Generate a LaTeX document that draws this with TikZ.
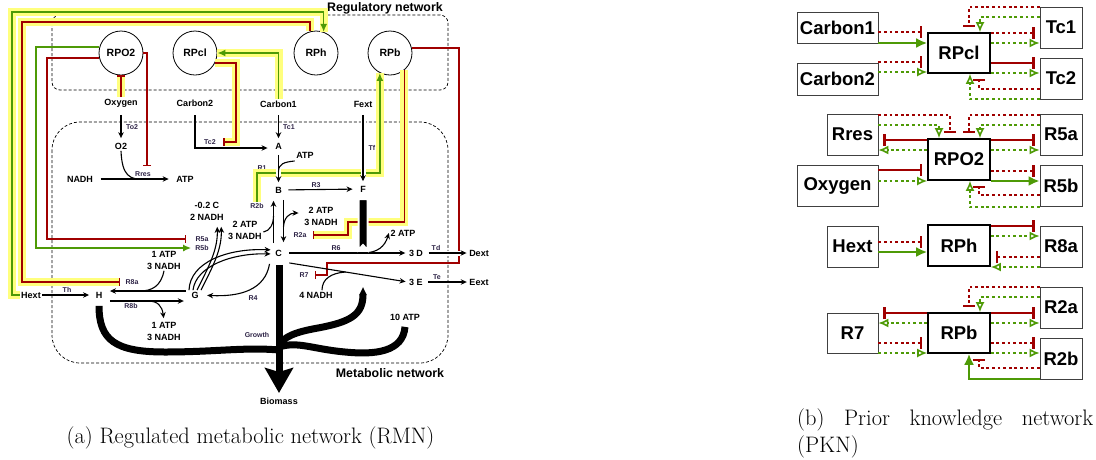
\documentclass[tikz,border=0pt]{standalone}
\usepackage{fontspec}
\newfontfamily\arial{Liberation Sans}
\usetikzlibrary{arrows.meta,calc}
\definecolor{actgreen}{RGB}{78,154,6}
\definecolor{inhred}{RGB}{160,0,0}
\definecolor{hlyellow}{RGB}{255,255,125}
\definecolor{labelink}{RGB}{45,35,70}
\begin{document}
\begin{tikzpicture}
[x=1pt,y=-1pt,
  regnode/.style={shape=circle,draw,line width=0.8pt,minimum size=44pt,inner sep=0pt,font=\arial\bfseries\fontsize{10.5}{12}\selectfont},%
  metnode/.style={inner sep=1.5pt,align=center,font=\arial\bfseries\fontsize{9}{12}\selectfont},%
  rlabel/.style={inner sep=1pt,text=labelink,font=\arial\bfseries\fontsize{7}{8}\selectfont},%
  netlabel/.style={inner sep=0pt,font=\arial\bfseries\fontsize{12.4}{14}\selectfont},%
  netbox/.style={draw,line width=0.7pt,dash pattern=on 3pt off 2pt},%
  flow/.style={draw,line width=1.1pt,-{Stealth[length=6pt,width=5.5pt]}},%
  side/.style={draw,line width=1.1pt},%
  crossgap/.style={preaction={draw=white,line width=5pt,-}},%
  thickflux/.style={draw,line width=7pt},%
  lact/.style={draw=actgreen,line width=1.6pt,-{Latex[length=8pt,width=7pt]}},%
  linh/.style={draw=inhred,line width=1.6pt,-{Bar[width=8pt]}},%
  hl/.style={preaction={draw=hlyellow,line width=8pt,-}},%
  pknbox/.style={draw=black!75,line width=0.8pt,inner sep=0pt,font=\arial\bfseries\fontsize{18.5}{20}\selectfont},%
  pkncore/.style={pknbox,draw=black,line width=1.6pt},%
  inhsolid/.style={draw=inhred,line width=2.6pt,shorten >=5pt,-{Bar[width=12pt]}},%
  inhdot/.style={inhsolid,dash pattern=on 2.8pt off 2.8pt},%
  actsolid/.style={draw=actgreen,line width=2.6pt,-{Latex[length=11pt,width=10pt]}},%
  actdot/.style={draw=actgreen,line width=2.6pt,dash pattern=on 2.8pt off 2.8pt,-{Latex[open,length=10pt,width=9pt,line width=1.6pt]}},%
  capnode/.style={inner sep=0pt,font=\fontsize{22.4}{27}\selectfont}]
\useasboundingbox (0,0) rectangle (1096,459);
%% (a) regulated metabolic network
\draw[netbox,rounded corners=8pt] (52,15) rectangle (448,90);
\draw[netbox,rounded corners=28pt] (52,122) rectangle (448,363);
\node[netlabel,anchor=base east] (regnet) at (443,11.5) {Regulatory network};
\node[netlabel] (metnet) at (390,373) {Metabolic network};
%% regulators
\foreach \nodename/\x/\y/\txt in {rpotwo/121/53/RPO2, rpcl/195/53/RPcl,
  rph/316/53/RPh, rpb/390/53/RPb}
{
  \node (\nodename) at (\x,\y) [regnode] {\txt};
}
%% metabolites
\foreach \nodename/\x/\y/\txt in {oxy/121/103/Oxygen, cartwo/195/103/Carbon2,
  carone/278.5/104/Carbon1, fext/363/104/Fext, otwo/121/146/O2, a/278.5/146/A,
  nadh/80/179/NADH, atpres/185/179/ATP, atpb/305/155/ATP, b/278.5/190/B,
  f/363/189/F, c/278.5/253/C, d/416/253/3 D, dext/479/253/Dext, e/416/282/3 E,
  eext/479/282/Eext, hext/31/295/Hext, h/99/295/H, g/195/295/G,
  cout/207/211/{-0.2 C\\2 NADH}, atpcb/245/230/{2 ATP\\3 NADH},
  atpbc/321/216/{2 ATP\\3 NADH}, atpf/403/233/2 ATP,
  atpgh/164/260/{1 ATP\\3 NADH}, atphg/164/331/{1 ATP\\3 NADH},
  nadhe/316/295/4 NADH, atpten/405/317/10 ATP, biomass/279/401/Biomass}
{
  \node (\nodename) at (\x,\y) [metnode] {\txt};
}
%% reaction labels
\foreach \nodename/\x/\y/\txt in {lto2/132/127/To2, ltc1/289/127/Tc1,
  ltc2/210/142/Tc2, ltf/372/148/Tf, lrres/143/174/Rres, lr1/262/168/R1,
  lr3/316/185/R3, lr2b/257/206/R2b, lr2a/300/235/R2a, lr6/336/248/R6,
  lr5a/202/239/R5a, lr5b/202/248/R5b, lr8a/132/282/R8a, lth/67/290/Th,
  lr8b/131/306/R8b, lr4/253/298/R4, lr7/304/275/R7, ltd/436/248/Td,
  lte/437/277/Te, lgrowth/257/335/Growth}
{
  \node (\nodename) at (\x,\y) [rlabel] {\txt};
}
%% regulation
\draw[lact,hl] (hext.west) -| (12,12) -| (rph.70);
\draw[linh,hl,shorten >=4pt] (rph.105) |- (22,22) |- (lr8a.west);
\draw[linh,hl] (oxy.north) -- (rpotwo.south);
\draw[lact,hl] (carone.north) |- (rpcl.east);
\draw[linh,hl] (rpcl.-27) -- (rpcl.-27 -| 236,0) |- ($(ltc2.east)+(6,0)$);
\draw[lact,hl] (lr2b.north) |- (rpb.243 |- 0,173) -- (rpb.243);
\draw[linh,hl] (rpb.-50) |- (348,222) |- ($(lr2a.east)+(5,0)$);
\draw[linh] (rpotwo.east) -| ($(lrres.north)+(4,-4)$);
\draw[linh,shorten >=8pt] (rpotwo.193) -- (rpotwo.193 -| 47,0) |- (lr5a.west);
\draw[lact,shorten >=3pt] (rpotwo.164) -- (rpotwo.164 -| 36,0) |- (lr5b.west);
\draw[linh] (rpb.13) -| (459,263) -- (327,263) |- ($(lr7.east)+(5,0)$);
%% reactions
\draw[flow,shorten <=6pt,shorten >=3pt] (oxy) -- (otwo);
\draw[flow,shorten <=6pt,shorten >=3pt] (carone) -- (a);
\draw[flow,shorten <=7pt,shorten >=6pt] (cartwo.south) |- ([yshift=-2pt]a.west);
\draw[flow,crossgap,shorten <=4pt,shorten >=3pt] (a) -- coordinate[pos=0.6] (atpjoin) (b);
\draw[flow,crossgap,shorten <=6pt,shorten >=3pt] (fext) -- (f);
\draw[flow,shorten <=6pt,shorten >=6pt] (nadh) -- coordinate[pos=0.62] (rresjoin) (atpres);
\draw[flow,shorten <=5pt,shorten >=6pt] (b) -- (f);
\draw[flow,shorten <=5pt,shorten >=6pt] ([xshift=5pt]b.south) -- coordinate[pos=0.6] (bcjoin) ([xshift=5pt]c.north);
\draw[flow,shorten <=5pt,shorten >=6pt] ([xshift=-5pt]c.north) -- coordinate[pos=0.6] (cbjoin) ([xshift=-5pt]b.south);
\draw[flow,shorten <=6pt,shorten >=2pt] (c) -- coordinate[pos=0.64] (fjoin) (d);
\draw[flow,shorten <=6pt,shorten >=2pt] ([yshift=-9pt]c.east) -- coordinate[pos=0.5] (ejoin) (e.west);
\draw[flow,crossgap,shorten <=4pt,shorten >=1pt] (d) -- (dext);
\draw[flow,shorten <=4pt,shorten >=1pt] (e) -- (eext);
\draw[flow,shorten >=5pt] (hext) -- (h);
\draw[flow,shorten <=4pt,shorten >=6pt] ([yshift=4pt]g.west) -- coordinate[pos=0.58] (ghjoin) ([yshift=4pt]h.east);
\draw[flow,shorten <=6pt,shorten >=6pt] ([yshift=-6pt]h.east) -- coordinate[pos=0.51] (hgjoin) ([yshift=-6pt]g.west);
\draw[flow,shorten >=7pt] ([xshift=-4pt,yshift=-6pt]c.south west) .. controls (265,290) and (240,297) .. (g.east);
\draw[flow,shorten >=3pt] ([xshift=-6pt]g.north) .. controls (190,262) and (228,248) .. ([yshift=3pt]c.west);
\draw[flow,shorten >=3pt] ([xshift=-2pt]g.north) .. controls (196,266) and (232,253) .. ([yshift=-1pt]c.west);
\draw[flow,shorten >=5pt] ([xshift=2pt]g.north) .. controls (208,268) and (218,250) .. ([xshift=10pt]cout.south);
\draw[flow,shorten >=5pt] ([xshift=6pt]g.north) .. controls (212,268) and (222,250) .. ([xshift=14pt]cout.south);
%% co-factors
\draw[side] (otwo.south) .. controls (122,176) and (130,180) .. (rresjoin);
\draw[side] ([yshift=-6pt]atpb.west) .. controls (284,162) and (278.5,164) .. (atpjoin);
\draw[side] ([yshift=-2pt]atpcb.east) .. controls (270,231) and (273.5,224) .. (cbjoin);
\draw[flow] (bcjoin) .. controls (284,218) and (289,213) .. ([xshift=-4pt,yshift=3pt]atpbc.west);
\draw[side] (atpgh.south) .. controls (161,286) and (152,291) .. (ghjoin);
\draw[flow,shorten >=2pt] (hgjoin) .. controls (158,301) and (162,306) .. (atphg.north);
\draw[flow] (fjoin) .. controls (378,253) and (385,246) .. (atpf.west);
\draw[side] ([xshift=6pt]nadhe.north) .. controls (322,279) and (331,273) .. (ejoin);
%% growth
\filldraw[fill=black,draw=white,line width=2pt] (358.5,199) -- (367.5,199) -- (367.5,250) -- (363,245) -- (358.5,250) -- cycle;
\draw[thickflux] ([yshift=-6pt]h.south) .. controls (99,340) and (115,352) .. (165,352)
  .. controls (215,352) and (245,347) .. (279,350);
\draw[thickflux,{Triangle[length=8pt,width=7pt]}-] (363,287) .. controls (363,315) and (350,322) .. (318,328)
  .. controls (295,332) and (283,337) .. (279,346);
\draw[thickflux] ([yshift=-5pt]atpten.south) .. controls (403,352) and (375,355) .. (345,352)
  .. controls (312,349) and (298,341) .. (279,347);
\draw[thickflux,-{Stealth[length=25pt,width=28pt,inset=4pt]},shorten >=3pt] ($(c.south)+(0.5,7)$) -- (biomass.north);
%% (b) prior knowledge network
\foreach \nodename/\x/\y/\w/\h/\txt in {car1/837.5/28/81pt/31pt/Carbon1,
  car2/837.5/79/81pt/32pt/Carbon2, tc1/1061/27.5/42pt/41pt/Tc1,
  tc2/1061/78.5/42pt/41pt/Tc2, rres/852.5/134.5/51pt/41pt/Rres,
  oxyb/837.5/185.5/81pt/41pt/Oxygen, r5a/1061/134.5/42pt/41pt/R5a,
  r5b/1061/185.5/42pt/41pt/R5b, hextb/852.5/246.5/51pt/41pt/Hext,
  r8a/1061/246.5/42pt/41pt/R8a, r7b/852.5/333/51pt/40pt/R7,
  r2ab/1061/307.5/42pt/41pt/R2a, r2bb/1061/358.5/42pt/41pt/R2b}
{
  \node[pknbox,minimum width=\w,minimum height=\h] (\nodename) at (\x,\y) {\txt};
}
\foreach \nodename/\y/\h/\txt in {rpclb/53/40pt/RPcl, rpo2b/159.5/41pt/RPO2,
  rphb/245.5/41pt/RPh, rpbb/333/40pt/RPb}
{
  \node[pkncore,minimum width=62pt,minimum height=\h] (\nodename) at (959,\y) {\txt};
}
%% straight edges
\foreach \from/\fa/\to/\ta/\yy/\kind in {
  car1/east/rpclb/west/32/inhdot, car1/east/rpclb/west/43/actsolid,
  car2/east/rpclb/west/62/inhdot, car2/east/rpclb/west/72/actdot,
  rpclb/east/tc1/west/33/inhdot, rpclb/east/tc1/west/43/actdot,
  rpclb/east/tc2/west/63/inhsolid, rpclb/east/tc2/west/73/actdot,
  rpo2b/west/rres/east/140/inhsolid, rpo2b/west/rres/east/150/actdot,
  oxyb/east/rpo2b/west/170/inhsolid, oxyb/east/rpo2b/west/181/actdot,
  rpo2b/east/r5a/west/140/inhsolid, rpo2b/east/r5a/west/150/actdot,
  rpo2b/east/r5b/west/171/inhdot, rpo2b/east/r5b/west/181/actsolid,
  rphb/east/r8a/west/226/inhsolid, rphb/east/r8a/west/236/actdot,
  hextb/east/rphb/west/242/inhdot, hextb/east/rphb/west/252/actsolid,
  r8a/west/rphb/east/257/inhdot, r8a/west/rphb/east/267/actdot,
  rpbb/east/r2ab/west/313/inhsolid, rpbb/east/r2ab/west/323/actdot,
  rpbb/west/r7b/east/313/inhsolid, rpbb/west/r7b/east/323/actdot,
  r7b/east/rpbb/west/343/inhdot, r7b/east/rpbb/west/353/actdot,
  rpbb/east/r2bb/west/343/inhdot, rpbb/east/r2bb/west/353/actdot}
{
  \draw[\kind] (\from.\fa |- 0,\yy) -- (\to.\ta |- 0,\yy);
}
%% feedback edges
\foreach \from/\fa/\yy/\xx/\to/\ta/\kind in {
  tc1/west/7/969/rpclb/north/inhdot, tc1/west/17/980/rpclb/north/actdot,
  tc2/west/89/979/rpclb/south/inhdot, tc2/west/99/970/rpclb/south/actdot,
  rres/east/115/950/rpo2b/north/inhdot, rres/east/125/939/rpo2b/north/actdot,
  r5a/west/115/969/rpo2b/north/inhdot, r5a/west/125/980/rpo2b/north/actdot,
  r5b/west/195/979/rpo2b/south/inhdot, r5b/west/207/970/rpo2b/south/actdot,
  r2ab/west/287/969/rpbb/north/inhdot, r2ab/west/297/980/rpbb/north/actdot,
  r2bb/west/368/979/rpbb/south/inhdot, r2bb/west/379/969/rpbb/south/actsolid}
{
  \draw[\kind] (\from.\fa |- 0,\yy) -| (\to.\ta -| \xx,0);
}
%% captions
\node[capnode] (capa) at (250.5,438) {(a) Regulated metabolic network (RMN)};
\node[capnode,anchor=base west] (capb) at (797,425) {\hbox to 296pt{(b)\hfill Prior\hfill knowledge\hfill network}};
\node[capnode,anchor=base west] (capbb) at (797,452) {(PKN)};
\end{tikzpicture}
\end{document}
